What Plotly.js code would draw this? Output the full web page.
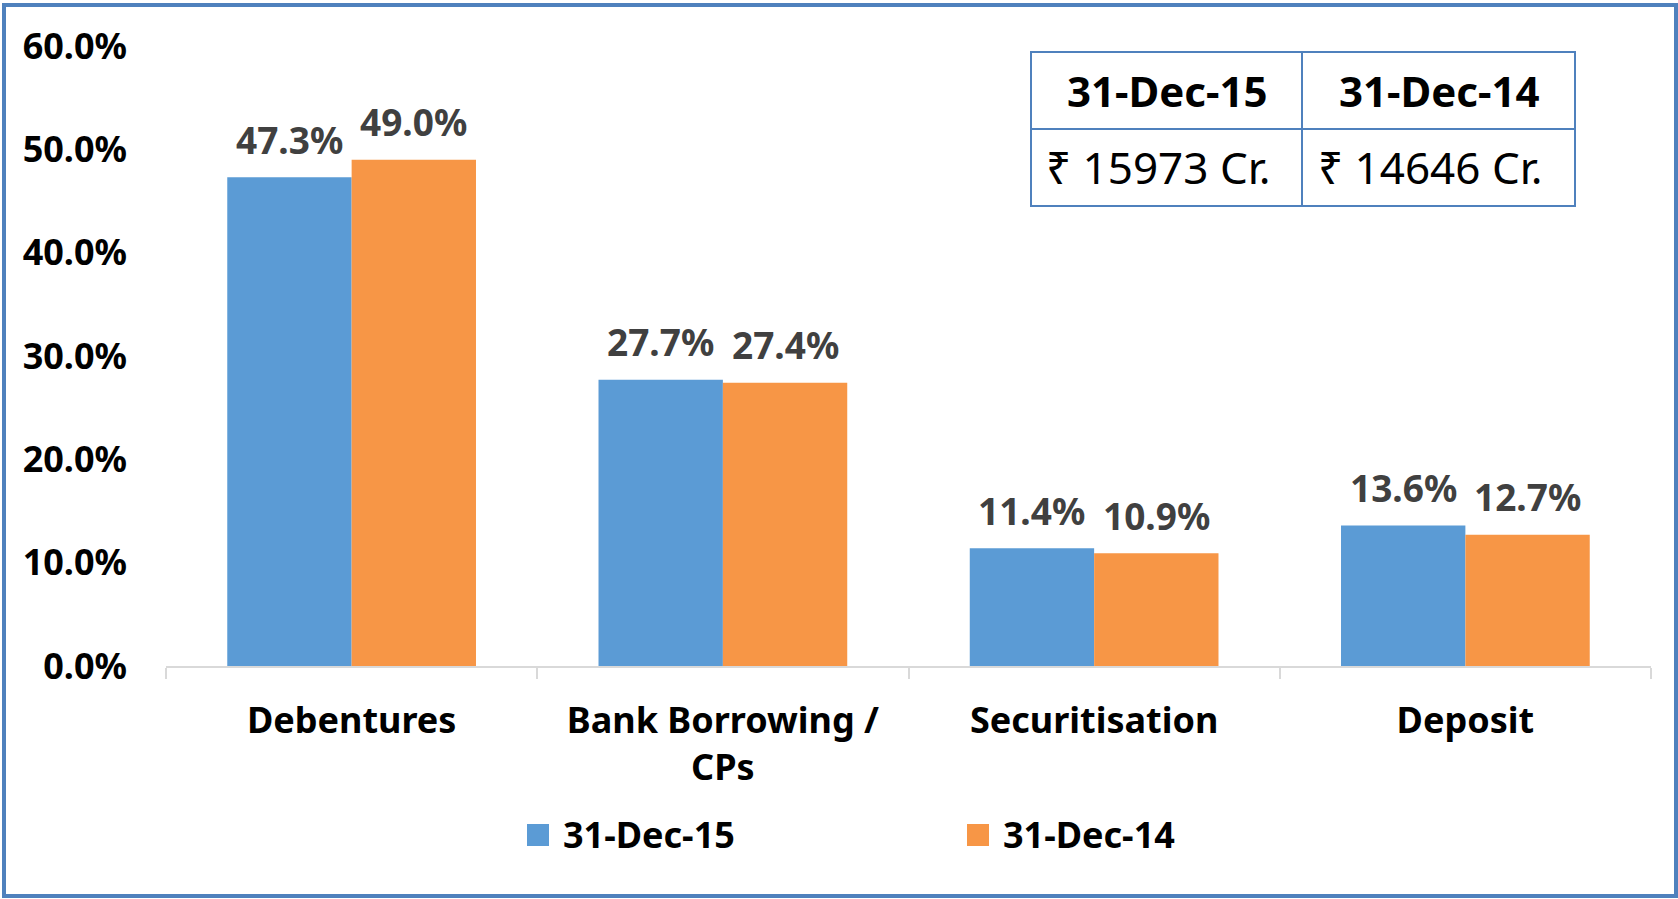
<!DOCTYPE html>
<html>
<head>
<meta charset="utf-8">
<script src="https://cdn.plot.ly/plotly-3.0.1.min.js"></script>
<style>html,body{margin:0;padding:0;background:#fff;}#chart{width:1678px;height:899px;}</style>
</head>
<body>
<div id="chart"></div>
<script>
// ---- data ----
const categories = ['Debentures', 'Bank Borrowing / CPs', 'Securitisation', 'Deposit'];
const categoryLabels = ['Debentures', 'Bank Borrowing /<br>CPs', 'Securitisation', 'Deposit'];
const seriesNames = ['31-Dec-15', '31-Dec-14'];
const values2015 = [47.3, 27.7, 11.4, 13.6];
const values2014 = [49.0, 27.4, 10.9, 12.7];
const yTickValues = [0, 10, 20, 30, 40, 50, 60];
const yTickLabels = ['0.0%', '10.0%', '20.0%', '30.0%', '40.0%', '50.0%', '60.0%'];
const tableHeaders = ['31-Dec-15', '31-Dec-14'];
const tableValues = ['\u20B9 15973 Cr.', '\u20B9 14646 Cr.'];

// ---- style / layout constants ----
const W = 1678, H = 899;
const M = {l: 166, r: 27, t: 46, b: 233};
const PW = W - M.l - M.r, PH = H - M.t - M.b;
const BARGAP = 0.33;
const COLORS = ['#5B9BD5', '#F79646'];
const FONT = 'Noto Sans, Open Sans, DejaVu Sans, sans-serif';
const px = v => (v - M.l) / PW;          // pixel x -> paper
const py = v => (H - M.b - v) / PH;      // pixel y -> paper

const seriesValues = [values2015, values2014];
const traces = seriesValues.map((vals, i) => ({
  type: 'bar',
  name: seriesNames[i],
  x: categories,
  y: vals,
  marker: {color: COLORS[i], line: {width: 0}},
  showlegend: false,
  hoverinfo: 'x+y+name'
}));

// data labels placed above each bar via the axis scale
const catPx = PW / categories.length;
const barPx = catPx * (1 - BARGAP) / seriesValues.length;
const annotations = [];
seriesValues.forEach((vals, i) => {
  const shift = (i - (seriesValues.length - 1) / 2) * barPx;
  vals.forEach((v, j) => {
    annotations.push({
      x: categories[j], y: v, xref: 'x', yref: 'y',
      xshift: shift, yshift: 38, yanchor: 'middle', xanchor: 'center',
      text: v.toFixed(1) + '%', showarrow: false,
      font: {family: FONT, size: 37, color: '#404040', weight: 'bold'}
    });
  });
});

// legend (manual, to match large square swatches)
const legendItems = [{sq: 527, tx: 561}, {sq: 967, tx: 1001}];
const shapes = [];
legendItems.forEach((it, i) => {
  shapes.push({type: 'rect', xref: 'paper', yref: 'paper',
    x0: px(it.sq), x1: px(it.sq + 22), y0: py(824), y1: py(846),
    fillcolor: COLORS[i], line: {width: 0}});
  annotations.push({xref: 'paper', yref: 'paper', x: px(it.tx), y: py(835),
    xanchor: 'left', yanchor: 'middle', showarrow: false, text: seriesNames[i],
    font: {family: FONT, size: 36, color: '#000', weight: 'bold'}});
});

// summary table top right
const T = {l: 1031, m: 1302, r: 1575, t: 52, h: 129, b: 206};
const TC = '#4F81BD';
shapes.push({type: 'rect', xref: 'paper', yref: 'paper', x0: px(T.l), x1: px(T.r), y0: py(T.b), y1: py(T.t), line: {color: TC, width: 2}, fillcolor: 'rgba(0,0,0,0)'});
shapes.push({type: 'line', xref: 'paper', yref: 'paper', x0: px(T.m), x1: px(T.m), y0: py(T.b), y1: py(T.t), line: {color: TC, width: 2}});
shapes.push({type: 'line', xref: 'paper', yref: 'paper', x0: px(T.l), x1: px(T.r), y0: py(T.h), y1: py(T.h), line: {color: TC, width: 2}});
const colCenters = [(T.l + T.m) / 2, (T.m + T.r) / 2];
tableHeaders.forEach((h, i) => {
  annotations.push({xref: 'paper', yref: 'paper', x: px(colCenters[i]), y: py((T.t + T.h) / 2),
    xanchor: 'center', yanchor: 'middle', showarrow: false, text: h,
    font: {family: FONT, size: 42, color: '#000', weight: 'bold'}});
  annotations.push({xref: 'paper', yref: 'paper', x: px(colCenters[i] - 8), y: py((T.h + T.b) / 2),
    xanchor: 'center', yanchor: 'middle', showarrow: false, text: tableValues[i],
    font: {family: FONT, size: 44, color: '#000'}});
});

// outer border
shapes.push({type: 'rect', xref: 'paper', yref: 'paper', x0: px(4), x1: px(1676), y0: py(896), y1: py(5), line: {color: '#4F81BD', width: 4}, fillcolor: 'rgba(0,0,0,0)'});

const layout = {
  width: W, height: H,
  margin: M,
  paper_bgcolor: '#ffffff', plot_bgcolor: '#ffffff',
  barmode: 'group', bargap: BARGAP, bargroupgap: 0,
  showlegend: false,
  xaxis: {
    type: 'category',
    tickvals: categories, ticktext: categoryLabels,
    showline: true, linecolor: '#D9D9D9', linewidth: 1.5,
    ticks: 'outside', tickson: 'boundaries', ticklen: 11, tickcolor: '#D9D9D9', tickwidth: 1.5,
    showgrid: false, zeroline: false,
    ticklabelstandoff: 22,
    tickfont: {family: FONT, size: 36, color: '#000', weight: 'bold'}
  },
  yaxis: {
    range: [0, 60], tickmode: 'array', tickvals: yTickValues, ticktext: yTickLabels,
    showgrid: false, zeroline: false, showline: false, ticks: '',
    ticklabelstandoff: 38,
    tickfont: {family: FONT, size: 36, color: '#000', weight: 'bold'}
  },
  annotations: annotations,
  shapes: shapes,
  font: {family: FONT}
};

Plotly.newPlot('chart', traces, layout, {displayModeBar: false});
</script>
</body>
</html>
